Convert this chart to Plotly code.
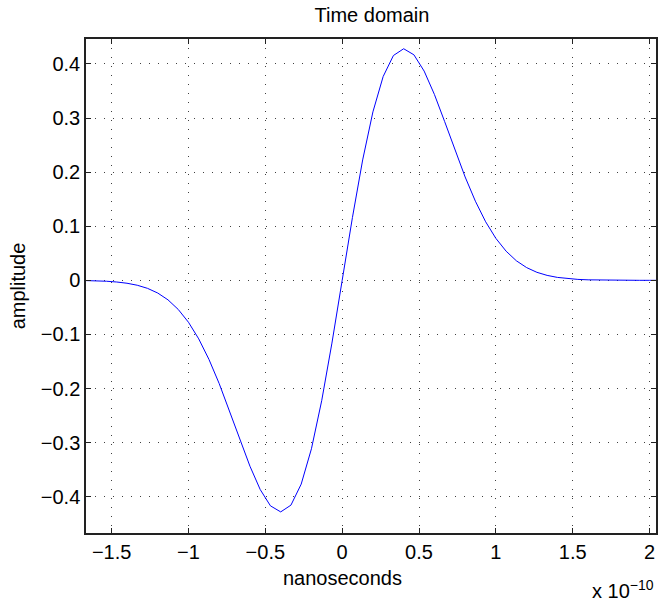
import plotly.graph_objects as go

# time in units of 1e-10 s
time_e10 = [-1.6667, -1.6, -1.5333, -1.4667, -1.4, -1.3333, -1.2667, -1.2, -1.1333, -1.0667,
            -1.0, -0.9333, -0.8667, -0.8, -0.7333, -0.6667, -0.6, -0.5333, -0.4667, -0.4,
            -0.3333, -0.2667, -0.2, -0.1333, -0.0667, 0.0, 0.0667, 0.1333, 0.2, 0.2667,
            0.3333, 0.4, 0.4667, 0.5333, 0.6, 0.6667, 0.7333, 0.8, 0.8667, 0.9333,
            1.0, 1.0667, 1.1333, 1.2, 1.2667, 1.3333, 1.4, 1.4667, 1.5333, 1.6,
            1.6667, 1.7333, 1.8, 1.8667, 1.9333, 2.0, 2.0417]
amplitude = [-0.0005, -0.0009, -0.0017, -0.0031, -0.0054, -0.0091, -0.0148, -0.0235, -0.0361, -0.0538,
             -0.0775, -0.1082, -0.1462, -0.1910, -0.2409, -0.2933, -0.3436, -0.3867, -0.4168, -0.4280,
             -0.4155, -0.3767, -0.3113, -0.2225, -0.1160, 0.0, 0.1160, 0.2225, 0.3113, 0.3767,
             0.4155, 0.4280, 0.4168, 0.3867, 0.3436, 0.2933, 0.2409, 0.1910, 0.1462, 0.1082,
             0.0775, 0.0538, 0.0361, 0.0235, 0.0148, 0.0091, 0.0054, 0.0031, 0.0017, 0.0009,
             0.0005, 0.0002, 0.0001, 0.0001, 0.0, 0.0, 0.0]

x_ticks = [-1.5, -1, -0.5, 0, 0.5, 1, 1.5, 2]
y_ticks = [-0.4, -0.3, -0.2, -0.1, 0, 0.1, 0.2, 0.3, 0.4]

font_family = "Liberation Sans, Arial, Helvetica, sans-serif"
txt_font = dict(size=20, color="black", family=font_family)

fig = go.Figure()
fig.add_trace(go.Scatter(x=time_e10, y=amplitude, mode="lines",
                         line=dict(color="#0000ff", width=1), showlegend=False))

axis_common = dict(
    showline=True, linecolor="#222", linewidth=1.5, mirror="ticks",
    ticks="inside", ticklen=5, tickcolor="#222", tickwidth=1,
    showgrid=True, gridcolor="rgba(0,0,0,0.75)", griddash="1px,8px", gridwidth=1,
    zeroline=False, tickfont=txt_font,
)

fig.update_xaxes(range=[-1.6667, 2.0417], tickvals=x_ticks, **axis_common)
fig.update_yaxes(range=[-0.467, 0.446], tickvals=y_ticks,
                 title=dict(text="amplitude", font=txt_font, standoff=10),
                 **axis_common)

fig.update_layout(
    width=663, height=602,
    margin=dict(l=86, r=5, t=39, b=69),
    paper_bgcolor="white", plot_bgcolor="white",
    title=dict(text="Time domain", x=0.561, xanchor="center", y=0.975, yanchor="middle",
               font=txt_font),
    annotations=[
        dict(text="nanoseconds", xref="x", yref="paper", x=0, y=-0.091,
             xanchor="center", yanchor="middle", showarrow=False, font=txt_font),
        dict(text="x 10<sup>−10</sup>", xref="paper", yref="paper",
             x=1.0, y=-0.115, xanchor="right", yanchor="middle", showarrow=False,
             font=txt_font),
    ],
)

fig.write_html("out.html")
